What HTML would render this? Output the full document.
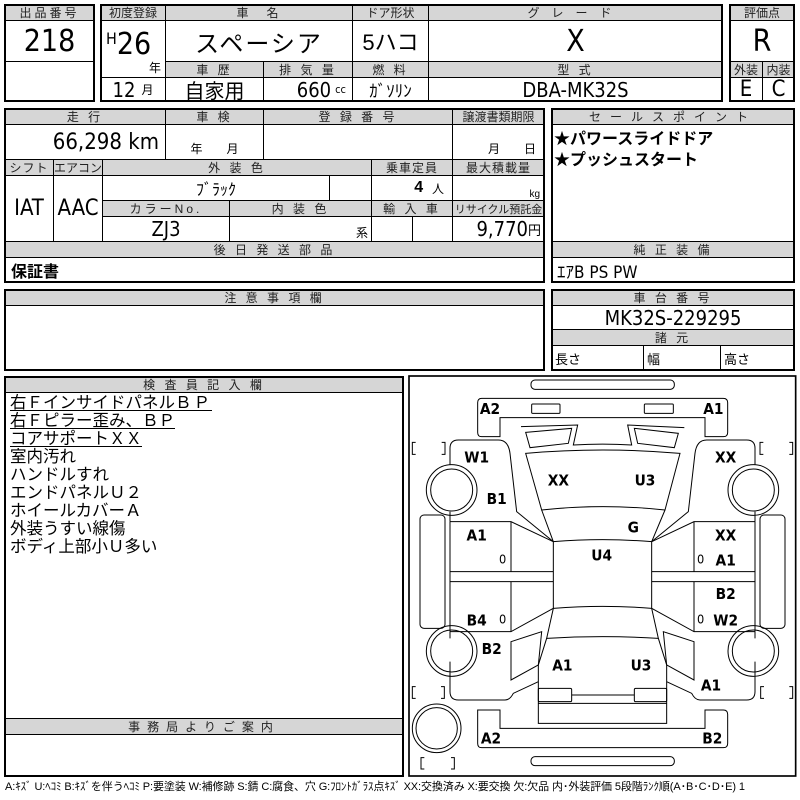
<!DOCTYPE html>
<html><head><meta charset="utf-8">
<style>
*{margin:0;padding:0;box-sizing:border-box}
body{width:800px;height:800px;background:#fff;position:relative;overflow:hidden;font-family:"Liberation Sans","Noto Sans CJK JP",sans-serif;color:#000}
.c{position:absolute;border:1px solid #000;display:flex;align-items:center;justify-content:center;white-space:nowrap;overflow:hidden}
.h{background:#d6d6d6;font-size:12px;letter-spacing:3px;color:#222}
.o{position:absolute;border:2px solid #000}
.n{font-family:"Liberation Sans Narrow","DejaVu Sans Condensed","Liberation Sans","Noto Sans CJK JP",sans-serif}
.notes{position:absolute;left:10px;top:394px;font-size:16.5px;line-height:18px;font-family:"Liberation Sans","Noto Sans CJK JP",sans-serif}
.notes div{white-space:nowrap}
.u{text-decoration:underline;text-underline-offset:2px}
</style></head><body>

<div class="c h" style="left:4px;top:4px;width:91px;height:17px">出品番号</div>
<div class="c n" style="left:4px;top:20px;width:91px;height:42px;font-size:30px">218</div>
<div class="c" style="left:4px;top:61px;width:91px;height:41px"></div>
<div class="o" style="left:4px;top:4px;width:91px;height:98px"></div>

<div class="c h" style="left:100px;top:4px;width:66px;height:17px;letter-spacing:0">初度登録</div>
<div class="c h" style="left:165px;top:4px;width:188px;height:17px">車　名</div>
<div class="c h" style="left:352px;top:4px;width:77px;height:17px;letter-spacing:0">ドア形状</div>
<div class="c h" style="left:428px;top:4px;width:295px;height:17px;letter-spacing:12px">グレード</div>
<div class="c n" style="left:100px;top:20px;width:66px;height:58px;align-items:flex-start;justify-content:flex-start"><span style="font-size:16px;margin:8px 0 0 5px">H</span><span style="font-size:30px;margin-top:6px">26</span><span style="position:absolute;right:4px;bottom:1px;font-size:12px">年</span></div>
<div class="c" style="left:165px;top:20px;width:188px;height:42px;font-size:24px;letter-spacing:2px">スペーシア</div>
<div class="c" style="left:352px;top:20px;width:77px;height:42px;font-size:22px">5ハコ</div>
<div class="c n" style="left:428px;top:20px;width:295px;height:42px;font-size:30px">X</div>
<div class="c h" style="left:165px;top:61px;width:99px;height:17px">車 歴</div>
<div class="c h" style="left:263px;top:61px;width:90px;height:17px">排 気 量</div>
<div class="c h" style="left:352px;top:61px;width:77px;height:17px">燃 料</div>
<div class="c h" style="left:428px;top:61px;width:295px;height:17px">型 式</div>
<div class="c n" style="left:100px;top:77px;width:66px;height:25px;font-size:20px">12 <span style="font-size:12px;margin-left:6px">月</span></div>
<div class="c" style="left:165px;top:77px;width:99px;height:25px;font-size:20px">自家用</div>
<div class="c n" style="left:263px;top:77px;width:90px;height:25px;font-size:20px;justify-content:flex-end;padding-right:6px">660 <span style="font-size:11px;margin-left:4px">cc</span></div>
<div class="c" style="left:352px;top:77px;width:77px;height:25px;font-size:17px">ｶﾞｿﾘﾝ</div>
<div class="c n" style="left:428px;top:77px;width:295px;height:25px;font-size:20px">DBA-MK32S</div>
<div class="o" style="left:100px;top:4px;width:623px;height:98px"></div>

<div class="c h" style="left:729px;top:4px;width:66px;height:17px;letter-spacing:0">評価点</div>
<div class="c n" style="left:729px;top:20px;width:66px;height:42px;font-size:30px">R</div>
<div class="c h" style="left:729px;top:61px;width:34px;height:17px;letter-spacing:0">外装</div>
<div class="c h" style="left:762px;top:61px;width:33px;height:17px;letter-spacing:0">内装</div>
<div class="c n" style="left:729px;top:77px;width:34px;height:25px;font-size:22px">E</div>
<div class="c n" style="left:762px;top:77px;width:33px;height:25px;font-size:22px">C</div>
<div class="o" style="left:729px;top:4px;width:66px;height:98px"></div>

<div class="c h" style="left:4px;top:108px;width:162px;height:17px">走 行</div>
<div class="c h" style="left:165px;top:108px;width:99px;height:17px">車 検</div>
<div class="c h" style="left:263px;top:108px;width:190px;height:17px">登 録 番 号</div>
<div class="c h" style="left:452px;top:108px;width:93px;height:17px;letter-spacing:0">譲渡書類期限</div>
<div class="c n" style="left:4px;top:124px;width:162px;height:36px;font-size:22px;justify-content:flex-end;padding-right:6px">66,298 km</div>
<div class="c" style="left:165px;top:124px;width:99px;height:36px;font-size:12px;align-items:flex-end;padding-bottom:2px">年　　月</div>
<div class="c" style="left:263px;top:124px;width:190px;height:36px"></div>
<div class="c" style="left:452px;top:124px;width:93px;height:36px;font-size:12px;align-items:flex-end;padding-bottom:2px;justify-content:flex-end;padding-right:8px">月　　日</div>
<div class="c h" style="left:4px;top:159px;width:50px;height:17px;letter-spacing:1px">シフト</div>
<div class="c h" style="left:53px;top:159px;width:50px;height:17px;letter-spacing:0">エアコン</div>
<div class="c h" style="left:102px;top:159px;width:270px;height:17px">外 装 色</div>
<div class="c h" style="left:371px;top:159px;width:82px;height:17px;letter-spacing:1px">乗車定員</div>
<div class="c h" style="left:452px;top:159px;width:93px;height:17px;letter-spacing:1px">最大積載量</div>
<div class="c n" style="left:4px;top:175px;width:50px;height:67px;font-size:22px">IAT</div>
<div class="c n" style="left:53px;top:175px;width:50px;height:67px;font-size:22px">AAC</div>
<div class="c" style="left:102px;top:175px;width:228px;height:26px;font-size:16px">ﾌﾞﾗｯｸ</div>
<div class="c" style="left:329px;top:175px;width:43px;height:26px"></div>
<div class="c" style="left:371px;top:175px;width:82px;height:26px;font-size:16px;justify-content:flex-end;padding-right:8px"><b>4</b>&nbsp;&nbsp;<span style="font-size:12px">人</span></div>
<div class="c" style="left:452px;top:175px;width:93px;height:26px;font-size:10px;justify-content:flex-end;padding-right:4px;align-items:flex-end">kg</div>
<div class="c h" style="left:102px;top:200px;width:128px;height:17px">カラーNo.</div>
<div class="c h" style="left:229px;top:200px;width:143px;height:17px">内 装 色</div>
<div class="c h" style="left:371px;top:200px;width:82px;height:17px">輸 入 車</div>
<div class="c h" style="left:452px;top:200px;width:93px;height:17px;letter-spacing:0;font-size:11px">リサイクル預託金</div>
<div class="c n" style="left:102px;top:216px;width:128px;height:26px;font-size:20px">ZJ3</div>
<div class="c" style="left:229px;top:216px;width:143px;height:26px;font-size:12px;justify-content:flex-end;padding-right:3px;align-items:flex-end">系</div>
<div class="c" style="left:371px;top:216px;width:42px;height:26px"></div>
<div class="c" style="left:412px;top:216px;width:41px;height:26px"></div>
<div class="c n" style="left:452px;top:216px;width:93px;height:26px;font-size:20px;justify-content:flex-end;padding-right:3px">9,770<span style="font-size:13px">円</span></div>
<div class="c h" style="left:4px;top:241px;width:541px;height:17px">後 日 発 送 部 品</div>
<div class="c" style="left:4px;top:257px;width:541px;height:26px;font-size:16px;font-weight:bold;justify-content:flex-start;padding-left:6px">保証書</div>
<div class="o" style="left:4px;top:108px;width:541px;height:175px"></div>

<div class="c h" style="left:551px;top:108px;width:244px;height:17px;letter-spacing:9px">セールスポイント</div>
<div class="c" style="left:551px;top:124px;width:244px;height:118px;align-items:flex-start;justify-content:flex-start;flex-direction:column;font-size:16px;font-weight:bold;line-height:21px;padding:4px 0 0 2px"><div>★パワースライドドア</div><div>★プッシュスタート</div></div>
<div class="c h" style="left:551px;top:241px;width:244px;height:17px">純 正 装 備</div>
<div class="c n" style="left:551px;top:257px;width:244px;height:26px;font-size:17px;justify-content:flex-start;padding-left:5px">ｴｱB PS PW</div>
<div class="o" style="left:551px;top:108px;width:244px;height:175px"></div>

<div class="c h" style="left:4px;top:289px;width:541px;height:17px">注 意 事 項 欄</div>
<div class="o" style="left:4px;top:289px;width:541px;height:82px"></div>
<div class="c h" style="left:551px;top:289px;width:244px;height:17px">車 台 番 号</div>
<div class="c n" style="left:551px;top:305px;width:244px;height:25px;font-size:20px">MK32S-229295</div>
<div class="c h" style="left:551px;top:329px;width:244px;height:17px">諸 元</div>
<div class="c" style="left:551px;top:345px;width:93px;height:26px;font-size:13px;justify-content:flex-start;padding-left:3px">長さ</div>
<div class="c" style="left:643px;top:345px;width:78px;height:26px;font-size:13px;justify-content:flex-start;padding-left:3px">幅</div>
<div class="c" style="left:720px;top:345px;width:75px;height:26px;font-size:13px;justify-content:flex-start;padding-left:3px">高さ</div>
<div class="o" style="left:551px;top:289px;width:244px;height:82px"></div>

<div class="c h" style="left:4px;top:376px;width:400px;height:17px">検 査 員 記 入 欄</div>
<div class="notes">
<div class="u">右Ｆインサイドパネル<span style="letter-spacing:2px">ＢＰ</span></div>
<div class="u">右Ｆピラー歪み、ＢＰ</div>
<div class="u">コアサポートＸＸ</div>
<div>室内汚れ</div>
<div>ハンドルすれ</div>
<div>エンドパネルＵ２</div>
<div>ホイールカバーＡ</div>
<div>外装うすい線傷</div>
<div>ボディ上部小Ｕ多い</div>
</div>
<div class="c h" style="left:4px;top:718px;width:400px;height:17px;letter-spacing:7px">事務局よりご案内</div>
<div class="o" style="left:4px;top:376px;width:400px;height:401px"></div>

<svg style="position:absolute;left:405px;top:375px" width="395" height="425" viewBox="0 0 1185 1275">
<g fill="none" stroke="#000" stroke-width="3">
<rect x="12" y="3" width="1160" height="1200" stroke-width="5"/>
<rect x="378" y="15" width="430" height="28" rx="12"/>
<path d="M230,70 H955 Q968,70 968,83 V172 Q968,185 955,185 H900 V128 H285 V185 H230 Q218,185 218,172 V83 Q218,70 230,70 Z"/>
<rect x="380" y="87" width="85" height="28" rx="3"/>
<rect x="718" y="87" width="87" height="28" rx="3"/>
<path d="M348,155 L518,150 L505,210 Q593,205 680,210 L668,150 L838,158"/>
<path d="M362,172 L500,160 L490,205 L375,218 Z"/>
<path d="M688,160 L820,175 L808,218 L698,205 Z"/>
<path d="M362,235 Q593,215 825,235 L780,405 Q593,385 410,405 Z"/>
<path d="M410,405 L445,500 Q593,488 740,500 L780,405"/>
<path d="M445,500 V700 Q593,688 740,700 V500"/>
<path d="M445,700 L425,790 Q593,780 760,790 L740,700"/>
<path d="M425,790 L400,870 V1045 H785 V870 L760,790"/>
<path d="M400,985 H785"/>
<rect x="400" y="940" width="100" height="40" rx="4"/>
<rect x="688" y="940" width="97" height="40" rx="4"/>
<path d="M500,960 H688"/>
<rect x="378" y="1145" width="430" height="27" rx="12"/>
<path d="M218,1005 H285 V1060 H900 V1005 H955 Q968,1005 968,1018 V1105 Q968,1118 955,1118 H230 Q218,1118 218,1105 Z"/>
<circle cx="95" cy="1060" r="73"/><circle cx="95" cy="1060" r="62"/>
<g id="side">
<path d="M135,270 V220 Q135,195 160,195 H280 Q310,195 315,235 L335,410 L445,500"/>
<path d="M135,440 H318 L445,500 M318,440 V590 M318,620 V770 M135,590 H445 M135,620 H445 M135,770 H318 L445,700 M135,410 V440 M135,770 V790"/>
<path d="M135,440 V770"/>
<path d="M318,800 L410,770 L400,870 L318,915 Z"/>
<path d="M135,860 V950 Q135,975 160,975 H300 Q315,975 325,955 L400,920"/>
<rect x="45" y="420" width="75" height="340" rx="12"/>
<circle cx="140" cy="345" r="76"/><circle cx="140" cy="345" r="63"/>
<circle cx="140" cy="828" r="76"/><circle cx="140" cy="828" r="63"/>
<path d="M32,202 H22 V238 H32 M110,202 H120 V238 H110"/>
<path d="M32,935 H22 V970 H32 M108,935 H118 V970 H108"/>
</g>
<use href="#side" transform="translate(1185,0) scale(-1,1)"/>
<path d="M58,1148 H48 V1182 H58 M138,1148 H148 V1182 H138"/>
</g>
<g font-family="Liberation Sans Narrow, DejaVu Sans Condensed, Liberation Sans, sans-serif" font-weight="bold" font-size="46" text-anchor="middle" fill="#000">
<text x="255" y="117">A2</text><text x="925" y="117">A1</text>
<text x="215" y="262">W1</text><text x="962" y="262">XX</text>
<text x="460" y="332">XX</text><text x="720" y="332">U3</text>
<text x="275" y="387">B1</text><text x="685" y="472">G</text>
<text x="215" y="497">A1</text><text x="962" y="497">XX</text>
<text x="590" y="557">U4</text>
<text x="293" y="565" font-size="38" font-weight="normal">0</text><text x="887" y="565" font-size="38" font-weight="normal">0</text>
<text x="962" y="572">A1</text><text x="962" y="672">B2</text>
<text x="215" y="752">B4</text>
<text x="293" y="745" font-size="38" font-weight="normal">0</text><text x="887" y="745" font-size="38" font-weight="normal">0</text>
<text x="962" y="752">W2</text>
<text x="260" y="837">B2</text><text x="472" y="887">A1</text><text x="708" y="887">U3</text>
<text x="918" y="947">A1</text>
<text x="258" y="1105">A2</text><text x="922" y="1105">B2</text>
</g>
</svg>

<div style="position:absolute;left:5px;top:778px;font-size:11px;white-space:nowrap;letter-spacing:-0.1px">A:ｷｽﾞ U:ﾍｺﾐ B:ｷｽﾞを伴うﾍｺﾐ P:要塗装 W:補修跡 S:錆 C:腐食、穴 G:ﾌﾛﾝﾄｶﾞﾗｽ点ｷｽﾞ XX:交換済み X:要交換 欠:欠品 内･外装評価 5段階ﾗﾝｸ順(A･B･C･D･E) 1</div>
</body></html>
